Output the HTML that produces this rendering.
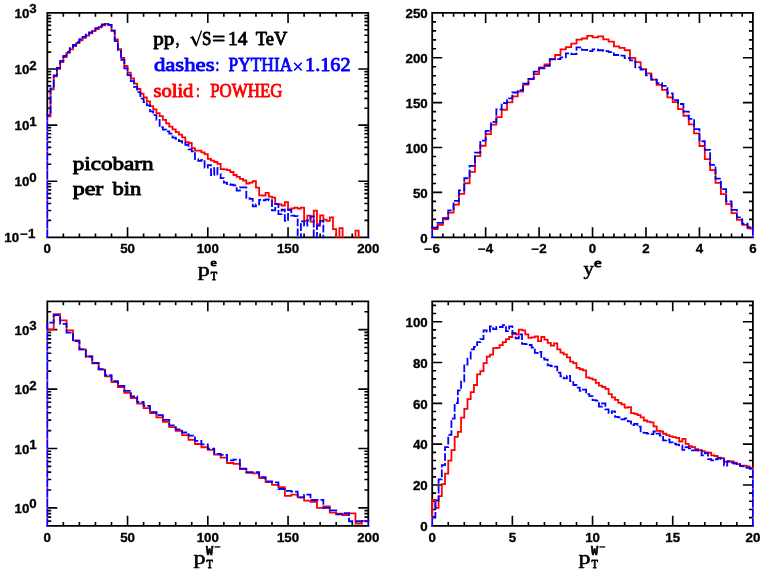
<!DOCTYPE html>
<html><head><meta charset="utf-8"><title>chart</title>
<style>html,body{margin:0;padding:0;background:#fff}svg{display:block;will-change:transform}</style>
</head><body>
<svg width="763" height="573" viewBox="0 0 763 573">
<rect width="763" height="573" fill="#fff"/>
<clipPath id="c1"><rect x="45.3" y="10.9" width="325" height="227.3"/></clipPath>
<path d="M127.55 237.3 v-10 M127.55 12.9 v10 M207.8 237.3 v-10 M207.8 12.9 v10 M288.05 237.3 v-10 M288.05 12.9 v10 M63.35 237.3 v-3.9 M63.35 12.9 v3.9 M79.4 237.3 v-3.9 M79.4 12.9 v3.9 M95.45 237.3 v-3.9 M95.45 12.9 v3.9 M111.5 237.3 v-3.9 M111.5 12.9 v3.9 M143.6 237.3 v-3.9 M143.6 12.9 v3.9 M159.65 237.3 v-3.9 M159.65 12.9 v3.9 M175.7 237.3 v-3.9 M175.7 12.9 v3.9 M191.75 237.3 v-3.9 M191.75 12.9 v3.9 M223.85 237.3 v-3.9 M223.85 12.9 v3.9 M239.9 237.3 v-3.9 M239.9 12.9 v3.9 M255.95 237.3 v-3.9 M255.95 12.9 v3.9 M272 237.3 v-3.9 M272 12.9 v3.9 M304.1 237.3 v-3.9 M304.1 12.9 v3.9 M320.15 237.3 v-3.9 M320.15 12.9 v3.9 M336.2 237.3 v-3.9 M336.2 12.9 v3.9 M352.25 237.3 v-3.9 M352.25 12.9 v3.9" stroke="#000" stroke-width="1.62" fill="none"/>
<path d="M47.3 181.2 h10 M368.3 181.2 h-10 M47.3 125.1 h10 M368.3 125.1 h-10 M47.3 69 h10 M368.3 69 h-10 M47.3 220.41 h3.9 M368.3 220.41 h-3.9 M47.3 210.53 h3.9 M368.3 210.53 h-3.9 M47.3 203.52 h3.9 M368.3 203.52 h-3.9 M47.3 198.09 h3.9 M368.3 198.09 h-3.9 M47.3 193.65 h3.9 M368.3 193.65 h-3.9 M47.3 189.89 h3.9 M368.3 189.89 h-3.9 M47.3 186.64 h3.9 M368.3 186.64 h-3.9 M47.3 183.77 h3.9 M368.3 183.77 h-3.9 M47.3 164.31 h3.9 M368.3 164.31 h-3.9 M47.3 154.43 h3.9 M368.3 154.43 h-3.9 M47.3 147.42 h3.9 M368.3 147.42 h-3.9 M47.3 141.99 h3.9 M368.3 141.99 h-3.9 M47.3 137.55 h3.9 M368.3 137.55 h-3.9 M47.3 133.79 h3.9 M368.3 133.79 h-3.9 M47.3 130.54 h3.9 M368.3 130.54 h-3.9 M47.3 127.67 h3.9 M368.3 127.67 h-3.9 M47.3 108.21 h3.9 M368.3 108.21 h-3.9 M47.3 98.33 h3.9 M368.3 98.33 h-3.9 M47.3 91.32 h3.9 M368.3 91.32 h-3.9 M47.3 85.89 h3.9 M368.3 85.89 h-3.9 M47.3 81.45 h3.9 M368.3 81.45 h-3.9 M47.3 77.69 h3.9 M368.3 77.69 h-3.9 M47.3 74.44 h3.9 M368.3 74.44 h-3.9 M47.3 71.57 h3.9 M368.3 71.57 h-3.9 M47.3 52.11 h3.9 M368.3 52.11 h-3.9 M47.3 42.23 h3.9 M368.3 42.23 h-3.9 M47.3 35.22 h3.9 M368.3 35.22 h-3.9 M47.3 29.79 h3.9 M368.3 29.79 h-3.9 M47.3 25.35 h3.9 M368.3 25.35 h-3.9 M47.3 21.59 h3.9 M368.3 21.59 h-3.9 M47.3 18.34 h3.9 M368.3 18.34 h-3.9 M47.3 15.47 h3.9 M368.3 15.47 h-3.9" stroke="#000" stroke-width="1.62" fill="none"/>
<path d="M46.4 12.9 H369.2 M46.4 237.3 H369.2 M47.3 12.9 V116.25 M368.3 12.9 V237.9" fill="none" stroke="#000" stroke-width="1.8"/>
<path d="M47.3 237.9 L47.3 116.25" fill="none" stroke="#f00" stroke-width="1.8" stroke-linejoin="miter" stroke-dasharray="0 8.07 1.35 0.38" clip-path="url(#c1)"/>
<path d="M47.3 116.25 L47.3 116.25 L50.51 116.25 L50.51 89.37 L53.72 89.37 L53.72 76.38 L56.93 76.38 L56.93 68.89 L60.14 68.89 L60.14 62.06 L63.35 62.06 L63.35 57.02 L66.56 57.02 L66.56 52.97 L69.77 52.97 L69.77 49.29 L72.98 49.29 L72.98 46.09 L76.19 46.09 L76.19 43.18 L79.4 43.18 L79.4 40.35 L82.61 40.35 L82.61 37.96 L85.82 37.96 L85.82 35.65 L89.03 35.65 L89.03 33.38 L92.24 33.38 L92.24 31.05 L95.45 31.05 L95.45 29.15 L98.66 29.15 L98.66 27.26 L101.87 27.26 L101.87 25.47 L105.08 25.47 L105.08 23.93 L108.29 23.93 L108.29 24.94 L111.5 24.94 L111.5 30.58 L114.71 30.58 L114.71 39.47 L117.92 39.47 L117.92 49.24 L121.13 49.24 L121.13 58.01 L124.34 58.01 L124.34 66.02 L127.55 66.02 L127.55 72.67 L130.76 72.67 L130.76 78.4 L133.97 78.4 L133.97 83.57 L137.18 83.57 L137.18 89 L140.39 89 L140.39 93.56 L143.6 93.56 L143.6 97.38 L146.81 97.38 L146.81 101.45 L150.02 101.45 L150.02 106.11 L153.23 106.11 L153.23 109.46 L156.44 109.46 L156.44 113.05 L159.65 113.05 L159.65 116.05 L162.86 116.05 L162.86 119.86 L166.07 119.86 L166.07 123.45 L169.28 123.45 L169.28 126.61 L172.49 126.61 L172.49 129.35 L175.7 129.35 L175.7 132.11 L178.91 132.11 L178.91 134.68 L182.12 134.68 L182.12 137.34 L185.33 137.34 L185.33 142.23 L188.54 142.23 L188.54 142.98 L191.75 142.98 L191.75 148.04 L194.96 148.04 L194.96 150.68 L198.17 150.68 L198.17 150.68 L201.38 150.68 L201.38 152.33 L204.59 152.33 L204.59 154.03 L207.8 154.03 L207.8 158.88 L211.01 158.88 L211.01 160.59 L214.22 160.59 L214.22 161.99 L217.43 161.99 L217.43 163.83 L220.64 163.83 L220.64 169.15 L223.85 169.15 L223.85 169.3 L227.06 169.3 L227.06 170.21 L230.27 170.21 L230.27 171.98 L233.48 171.98 L233.48 175 L236.69 175 L236.69 176.96 L239.9 176.96 L239.9 178.88 L243.11 178.88 L243.11 180.48 L246.32 180.48 L246.32 183.5 L249.53 183.5 L249.53 182.58 L252.74 182.58 L252.74 181.2 L255.95 181.2 L255.95 187.57 L259.16 187.57 L259.16 195.33 L262.37 195.33 L262.37 195.5 L265.58 195.5 L265.58 192.85 L268.79 192.85 L268.79 196.67 L272 196.67 L272 197.61 L275.21 197.61 L275.21 203.83 L278.42 203.83 L278.42 204.46 L281.63 204.46 L281.63 205.69 L284.84 205.69 L284.84 202.05 L288.05 202.05 L288.05 209.73 L291.26 209.73 L291.26 208.36 L294.47 208.36 L294.47 207.7 L297.68 207.7 L297.68 208.66 L300.89 208.66 L300.89 207.7 L304.1 207.7 L304.1 220.78 L307.31 220.78 L307.31 215.57 L310.52 215.57 L310.52 221.66 L313.73 221.66 L313.73 210.53 L316.94 210.53 L316.94 224.23 L320.15 224.23 L320.15 215.47 L323.36 215.47 L323.36 219.69 L326.57 219.69 L326.57 220.9 L329.78 220.9 L329.78 217.43 L332.99 217.43 L332.99 229.1 L336.2 229.1 L336.2 267.3 L339.41 267.3 L339.41 228.08 L342.62 228.08 L342.62 267.3 L345.83 267.3 L345.83 267.3 L349.04 267.3 L349.04 267.3 L352.25 267.3 L352.25 267.3 L355.46 267.3 L355.46 230.72 L358.67 230.72 L358.67 267.3 L361.88 267.3 L361.88 267.3 L365.09 267.3 L365.09 267.3 L368.3 267.3 L368.3 237.9" fill="none" stroke="#f00" stroke-width="1.8" stroke-linejoin="miter" clip-path="url(#c1)"/>
<path d="M47.3 237.9 L47.3 115.16" fill="none" stroke="#00f" stroke-width="1.8" stroke-linejoin="miter" stroke-dasharray="8.07 1.35 0.38 0" clip-path="url(#c1)"/>
<path d="M47.3 116.06 L47.3 115.16 L50.51 115.16 L50.51 88.28 L53.72 88.28 L53.72 75.29 L56.93 75.29 L56.93 67.8 L60.14 67.8 L60.14 60.97 L63.35 60.97 L63.35 55.93 L66.56 55.93 L66.56 51.88 L69.77 51.88 L69.77 48.2 L72.98 48.2 L72.98 45 L76.19 45 L76.19 42.09 L79.4 42.09 L79.4 39.27 L82.61 39.27 L82.61 36.87 L85.82 36.87 L85.82 34.57 L89.03 34.57 L89.03 32.29 L92.24 32.29 L92.24 29.96 L95.45 29.96 L95.45 28.07 L98.66 28.07 L98.66 26.18 L101.87 26.18 L101.87 24.38 L105.08 24.38 L105.08 23.93 L108.29 23.93 L108.29 24.94 L111.5 24.94 L111.5 30.58 L114.71 30.58 L114.71 41.04 L117.92 41.04 L117.92 51.04 L121.13 51.04 L121.13 59.95 L124.34 59.95 L124.34 68.28 L127.55 68.28 L127.55 75.05 L130.76 75.05 L130.76 81.04 L133.97 81.04 L133.97 86.88 L137.18 86.88 L137.18 92.13 L140.39 92.13 L140.39 98.66 L143.6 98.66 L143.6 102.2 L146.81 102.2 L146.81 105.34 L150.02 105.34 L150.02 111.33 L153.23 111.33 L153.23 115.22 L156.44 115.22 L156.44 119.86 L159.65 119.86 L159.65 127.13 L162.86 127.13 L162.86 129.64 L166.07 129.64 L166.07 131.47 L169.28 131.47 L169.28 133.62 L172.49 133.62 L172.49 137.55 L175.7 137.55 L175.7 138.8 L178.91 138.8 L178.91 141.03 L182.12 141.03 L182.12 142.48 L185.33 142.48 L185.33 144.83 L188.54 144.83 L188.54 149.32 L191.75 149.32 L191.75 151.38 L194.96 151.38 L194.96 159.17 L198.17 159.17 L198.17 160.91 L201.38 160.91 L201.38 159.87 L204.59 159.87 L204.59 167.57 L207.8 167.57 L207.8 165.05 L211.01 165.05 L211.01 175 L214.22 175 L214.22 167.85 L217.43 167.85 L217.43 174.25 L220.64 174.25 L220.64 178.22 L223.85 178.22 L223.85 182.71 L227.06 182.71 L227.06 184.04 L230.27 184.04 L230.27 184.73 L233.48 184.73 L233.48 185.45 L236.69 185.45 L236.69 190.6 L239.9 190.6 L239.9 187.38 L243.11 187.38 L243.11 187.38 L246.32 187.38 L246.32 198.09 L249.53 198.09 L249.53 198.93 L252.74 198.93 L252.74 206.36 L255.95 206.36 L255.95 204.46 L259.16 204.46 L259.16 199.8 L262.37 199.8 L262.37 200.23 L265.58 200.23 L265.58 199.44 L268.79 199.44 L268.79 200.23 L272 200.23 L272 210.29 L275.21 210.29 L275.21 204.2 L278.42 204.2 L278.42 214.21 L281.63 214.21 L281.63 209.73 L284.84 209.73 L284.84 220.78 L288.05 220.78 L288.05 209.73 L291.26 209.73 L291.26 215.57 L294.47 215.57 L294.47 216.17 L297.68 216.17 L297.68 267.3 L300.89 267.3 L300.89 221.41 L304.1 221.41 L304.1 225.7 L307.31 225.7 L307.31 220.41 L310.52 220.41 L310.52 216.48 L313.73 216.48 L313.73 267.3 L316.94 267.3 L316.94 225.7 L320.15 225.7 L320.15 220.78 L323.36 220.78 L323.36 267.3 L326.57 267.3 L326.57 267.3 L329.78 267.3 L329.78 267.3 L332.99 267.3 L332.99 267.3 L336.2 267.3 L336.2 267.3 L339.41 267.3 L339.41 267.3 L342.62 267.3 L342.62 267.3 L345.83 267.3 L345.83 267.3 L349.04 267.3 L349.04 267.3 L352.25 267.3 L352.25 267.3 L355.46 267.3 L355.46 267.3 L358.67 267.3 L358.67 267.3 L361.88 267.3 L361.88 267.3 L365.09 267.3 L365.09 267.3 L368.3 267.3 L368.3 267.3" fill="none" stroke="#00f" stroke-width="1.8" stroke-linejoin="miter" stroke-dasharray="7.7 2.1" stroke-dashoffset="4.24" clip-path="url(#c1)"/>
<rect x="367.4" y="236.4" width="1.8" height="1.8" fill="#00f"/>
<text transform="translate(47.3 253.3) scale(1.11 1)" text-anchor="middle" font-family='"Liberation Sans", sans-serif' font-weight="bold" font-size="12" stroke="#000" stroke-width="0.3">0</text>
<text transform="translate(127.55 253.3) scale(1.11 1)" text-anchor="middle" font-family='"Liberation Sans", sans-serif' font-weight="bold" font-size="12" stroke="#000" stroke-width="0.3">50</text>
<text transform="translate(207.8 253.3) scale(1.11 1)" text-anchor="middle" font-family='"Liberation Sans", sans-serif' font-weight="bold" font-size="12" stroke="#000" stroke-width="0.3">100</text>
<text transform="translate(288.05 253.3) scale(1.11 1)" text-anchor="middle" font-family='"Liberation Sans", sans-serif' font-weight="bold" font-size="12" stroke="#000" stroke-width="0.3">150</text>
<text transform="translate(368.3 253.3) scale(1.11 1)" text-anchor="middle" font-family='"Liberation Sans", sans-serif' font-weight="bold" font-size="12" stroke="#000" stroke-width="0.3">200</text>
<text transform="translate(29.3 18.1) scale(1.11 1)" text-anchor="end" font-family='"Liberation Sans", sans-serif' font-weight="bold" font-size="12" stroke="#000" stroke-width="0.3">10</text>
<text transform="translate(29.3 13.4) scale(1.11 1)" text-anchor="start" font-family='"Liberation Sans", sans-serif' font-weight="bold" font-size="12" stroke="#000" stroke-width="0.3">3</text>
<text transform="translate(29.3 74.2) scale(1.11 1)" text-anchor="end" font-family='"Liberation Sans", sans-serif' font-weight="bold" font-size="12" stroke="#000" stroke-width="0.3">10</text>
<text transform="translate(29.3 69.5) scale(1.11 1)" text-anchor="start" font-family='"Liberation Sans", sans-serif' font-weight="bold" font-size="12" stroke="#000" stroke-width="0.3">2</text>
<text transform="translate(29.3 130.3) scale(1.11 1)" text-anchor="end" font-family='"Liberation Sans", sans-serif' font-weight="bold" font-size="12" stroke="#000" stroke-width="0.3">10</text>
<text transform="translate(29.3 125.6) scale(1.11 1)" text-anchor="start" font-family='"Liberation Sans", sans-serif' font-weight="bold" font-size="12" stroke="#000" stroke-width="0.3">1</text>
<text transform="translate(29.3 186.4) scale(1.11 1)" text-anchor="end" font-family='"Liberation Sans", sans-serif' font-weight="bold" font-size="12" stroke="#000" stroke-width="0.3">10</text>
<text transform="translate(29.3 181.7) scale(1.11 1)" text-anchor="start" font-family='"Liberation Sans", sans-serif' font-weight="bold" font-size="12" stroke="#000" stroke-width="0.3">0</text>
<text transform="translate(19.1 242.3) scale(1.11 1)" text-anchor="end" font-family='"Liberation Sans", sans-serif' font-weight="bold" font-size="12" stroke="#000" stroke-width="0.3">10</text>
<text transform="translate(20.3 237.5) scale(1.11 1)" text-anchor="start" font-family='"Liberation Sans", sans-serif' font-weight="bold" font-size="12" stroke="#000" stroke-width="0.3">−1</text>
<clipPath id="c2"><rect x="430.2" y="10.9" width="324.7" height="227.3"/></clipPath>
<path d="M485.65 237.3 v-10 M485.65 12.9 v10 M539.1 237.3 v-10 M539.1 12.9 v10 M592.55 237.3 v-10 M592.55 12.9 v10 M646 237.3 v-10 M646 12.9 v10 M699.45 237.3 v-10 M699.45 12.9 v10 M442.89 237.3 v-3.9 M442.89 12.9 v3.9 M453.58 237.3 v-3.9 M453.58 12.9 v3.9 M464.27 237.3 v-3.9 M464.27 12.9 v3.9 M474.96 237.3 v-3.9 M474.96 12.9 v3.9 M496.34 237.3 v-3.9 M496.34 12.9 v3.9 M507.03 237.3 v-3.9 M507.03 12.9 v3.9 M517.72 237.3 v-3.9 M517.72 12.9 v3.9 M528.41 237.3 v-3.9 M528.41 12.9 v3.9 M549.79 237.3 v-3.9 M549.79 12.9 v3.9 M560.48 237.3 v-3.9 M560.48 12.9 v3.9 M571.17 237.3 v-3.9 M571.17 12.9 v3.9 M581.86 237.3 v-3.9 M581.86 12.9 v3.9 M603.24 237.3 v-3.9 M603.24 12.9 v3.9 M613.93 237.3 v-3.9 M613.93 12.9 v3.9 M624.62 237.3 v-3.9 M624.62 12.9 v3.9 M635.31 237.3 v-3.9 M635.31 12.9 v3.9 M656.69 237.3 v-3.9 M656.69 12.9 v3.9 M667.38 237.3 v-3.9 M667.38 12.9 v3.9 M678.07 237.3 v-3.9 M678.07 12.9 v3.9 M688.76 237.3 v-3.9 M688.76 12.9 v3.9 M710.14 237.3 v-3.9 M710.14 12.9 v3.9 M720.83 237.3 v-3.9 M720.83 12.9 v3.9 M731.52 237.3 v-3.9 M731.52 12.9 v3.9 M742.21 237.3 v-3.9 M742.21 12.9 v3.9" stroke="#000" stroke-width="1.62" fill="none"/>
<path d="M432.2 192.42 h10 M752.9 192.42 h-10 M432.2 147.54 h10 M752.9 147.54 h-10 M432.2 102.66 h10 M752.9 102.66 h-10 M432.2 57.78 h10 M752.9 57.78 h-10 M432.2 228.32 h3.9 M752.9 228.32 h-3.9 M432.2 219.35 h3.9 M752.9 219.35 h-3.9 M432.2 210.37 h3.9 M752.9 210.37 h-3.9 M432.2 201.4 h3.9 M752.9 201.4 h-3.9 M432.2 183.44 h3.9 M752.9 183.44 h-3.9 M432.2 174.47 h3.9 M752.9 174.47 h-3.9 M432.2 165.49 h3.9 M752.9 165.49 h-3.9 M432.2 156.52 h3.9 M752.9 156.52 h-3.9 M432.2 138.56 h3.9 M752.9 138.56 h-3.9 M432.2 129.59 h3.9 M752.9 129.59 h-3.9 M432.2 120.61 h3.9 M752.9 120.61 h-3.9 M432.2 111.64 h3.9 M752.9 111.64 h-3.9 M432.2 93.68 h3.9 M752.9 93.68 h-3.9 M432.2 84.71 h3.9 M752.9 84.71 h-3.9 M432.2 75.73 h3.9 M752.9 75.73 h-3.9 M432.2 66.76 h3.9 M752.9 66.76 h-3.9 M432.2 48.8 h3.9 M752.9 48.8 h-3.9 M432.2 39.83 h3.9 M752.9 39.83 h-3.9 M432.2 30.85 h3.9 M752.9 30.85 h-3.9 M432.2 21.88 h3.9 M752.9 21.88 h-3.9" stroke="#000" stroke-width="1.62" fill="none"/>
<path d="M431.3 12.9 H753.8 M431.3 237.3 H753.8 M432.2 12.9 V229.22 M752.9 12.9 V228.41" fill="none" stroke="#000" stroke-width="1.8"/>
<path d="M432.2 237.9 L432.2 229.22" fill="none" stroke="#f00" stroke-width="1.8" stroke-linejoin="miter" stroke-dasharray="0 8.07 1.35 0.38" clip-path="url(#c2)"/>
<path d="M432.2 229.22 L432.2 229.22 L437.55 229.22 L437.55 224.91 L442.89 224.91 L442.89 219.44 L448.23 219.44 L448.23 212.71 L453.58 212.71 L453.58 204.54 L458.93 204.54 L458.93 193.95 L464.27 193.95 L464.27 183.26 L469.62 183.26 L469.62 171.95 L474.96 171.95 L474.96 156.07 L480.31 156.07 L480.31 145.74 L485.65 145.74 L485.65 134.08 L491 134.08 L491 124.65 L496.34 124.65 L496.34 117.11 L501.69 117.11 L501.69 109.75 L507.03 109.75 L507.03 102.39 L512.38 102.39 L512.38 96.47 L517.72 96.47 L517.72 91.71 L523.07 91.71 L523.07 84.71 L528.41 84.71 L528.41 79.05 L533.75 79.05 L533.75 74.12 L539.1 74.12 L539.1 67.29 L544.44 67.29 L544.44 64.33 L549.79 64.33 L549.79 58.86 L555.13 58.86 L555.13 55 L560.48 55 L560.48 49.43 L565.83 49.43 L565.83 47.1 L571.17 47.1 L571.17 43.69 L576.51 43.69 L576.51 39.56 L581.86 39.56 L581.86 38.48 L587.21 38.48 L587.21 35.79 L592.55 35.79 L592.55 37.4 L597.89 37.4 L597.89 36.42 L603.24 36.42 L603.24 39.29 L608.59 39.29 L608.59 41.62 L613.93 41.62 L613.93 46.29 L619.27 46.29 L619.27 47.91 L624.62 47.91 L624.62 50.24 L629.97 50.24 L629.97 57.78 L635.31 57.78 L635.31 62.09 L640.65 62.09 L640.65 69.09 L646 69.09 L646 73.4 L651.35 73.4 L651.35 79.68 L656.69 79.68 L656.69 84.8 L662.03 84.8 L662.03 89.82 L667.38 89.82 L667.38 97.36 L672.72 97.36 L672.72 102.12 L678.07 102.12 L678.07 109.03 L683.41 109.03 L683.41 115.76 L688.76 115.76 L688.76 124.38 L694.11 124.38 L694.11 133.45 L699.45 133.45 L699.45 146.01 L704.8 146.01 L704.8 159.03 L710.14 159.03 L710.14 170.07 L715.49 170.07 L715.49 182.91 L720.83 182.91 L720.83 194.22 L726.17 194.22 L726.17 204.09 L731.52 204.09 L731.52 213.06 L736.87 213.06 L736.87 219.8 L742.21 219.8 L742.21 224.91 L747.56 224.91 L747.56 228.41 L752.9 228.41 L752.9 228.41" fill="none" stroke="#f00" stroke-width="1.8" stroke-linejoin="miter" clip-path="url(#c2)"/>
<path d="M752.9 228.41 L752.9 237.9" fill="none" stroke="#f00" stroke-width="1.8" stroke-linejoin="miter" stroke-dasharray="0 8.07 1.35 0.38" stroke-dashoffset="1.33" clip-path="url(#c2)"/>
<path d="M432.2 237.9 L432.2 227.61" fill="none" stroke="#00f" stroke-width="1.8" stroke-linejoin="miter" stroke-dasharray="8.07 1.35 0.38 0" clip-path="url(#c2)"/>
<path d="M432.2 228.51 L432.2 227.61 L437.55 227.61 L437.55 222.94 L442.89 222.94 L442.89 218.18 L448.23 218.18 L448.23 210.37 L453.58 210.37 L453.58 200.95 L458.93 200.95 L458.93 190.45 L464.27 190.45 L464.27 178.24 L469.62 178.24 L469.62 165.94 L474.96 165.94 L474.96 152.66 L480.31 152.66 L480.31 140.72 L485.65 140.72 L485.65 130.93 L491 130.93 L491 121.78 L496.34 121.78 L496.34 109.3 L501.69 109.3 L501.69 103.02 L507.03 103.02 L507.03 98.35 L512.38 98.35 L512.38 92.52 L517.72 92.52 L517.72 90.09 L523.07 90.09 L523.07 83.54 L528.41 83.54 L528.41 78.87 L533.75 78.87 L533.75 71.6 L539.1 71.6 L539.1 68.37 L544.44 68.37 L544.44 65.95 L549.79 65.95 L549.79 59.4 L555.13 59.4 L555.13 59.13 L560.48 59.13 L560.48 57.33 L565.83 57.33 L565.83 53.38 L571.17 53.38 L571.17 54.19 L576.51 54.19 L576.51 47.37 L581.86 47.37 L581.86 49.97 L587.21 49.97 L587.21 51.05 L592.55 51.05 L592.55 49.43 L597.89 49.43 L597.89 50.24 L603.24 50.24 L603.24 51.05 L608.59 51.05 L608.59 52.13 L613.93 52.13 L613.93 55 L619.27 55 L619.27 55.72 L624.62 55.72 L624.62 58.05 L629.97 58.05 L629.97 60.47 L635.31 60.47 L635.31 67.29 L640.65 67.29 L640.65 69.54 L646 69.54 L646 75.46 L651.35 75.46 L651.35 79.68 L656.69 79.68 L656.69 83.27 L662.03 83.27 L662.03 85.96 L667.38 85.96 L667.38 93.32 L672.72 93.32 L672.72 100.06 L678.07 100.06 L678.07 104.01 L683.41 104.01 L683.41 111.55 L688.76 111.55 L688.76 118.91 L694.11 118.91 L694.11 129.14 L699.45 129.14 L699.45 141.26 L704.8 141.26 L704.8 149.87 L710.14 149.87 L710.14 164.86 L715.49 164.86 L715.49 178.69 L720.83 178.69 L720.83 189.19 L726.17 189.19 L726.17 201.4 L731.52 201.4 L731.52 209.92 L736.87 209.92 L736.87 217.46 L742.21 217.46 L742.21 223.75 L747.56 223.75 L747.56 227.16 L752.9 227.16 L752.9 228.06" fill="none" stroke="#00f" stroke-width="1.8" stroke-linejoin="miter" stroke-dasharray="7.7 2.1" stroke-dashoffset="9.39" clip-path="url(#c2)"/>
<path d="M752.9 227.16 L752.9 237.9" fill="none" stroke="#00f" stroke-width="1.8" stroke-linejoin="miter" stroke-dasharray="8.07 1.35 0.38 0" stroke-dashoffset="0.07" clip-path="url(#c2)"/>
<text transform="translate(432.2 253.3) scale(1.11 1)" text-anchor="middle" font-family='"Liberation Sans", sans-serif' font-weight="bold" font-size="12" stroke="#000" stroke-width="0.3">−6</text>
<text transform="translate(485.65 253.3) scale(1.11 1)" text-anchor="middle" font-family='"Liberation Sans", sans-serif' font-weight="bold" font-size="12" stroke="#000" stroke-width="0.3">−4</text>
<text transform="translate(539.1 253.3) scale(1.11 1)" text-anchor="middle" font-family='"Liberation Sans", sans-serif' font-weight="bold" font-size="12" stroke="#000" stroke-width="0.3">−2</text>
<text transform="translate(592.55 253.3) scale(1.11 1)" text-anchor="middle" font-family='"Liberation Sans", sans-serif' font-weight="bold" font-size="12" stroke="#000" stroke-width="0.3">0</text>
<text transform="translate(646 253.3) scale(1.11 1)" text-anchor="middle" font-family='"Liberation Sans", sans-serif' font-weight="bold" font-size="12" stroke="#000" stroke-width="0.3">2</text>
<text transform="translate(699.45 253.3) scale(1.11 1)" text-anchor="middle" font-family='"Liberation Sans", sans-serif' font-weight="bold" font-size="12" stroke="#000" stroke-width="0.3">4</text>
<text transform="translate(752.9 253.3) scale(1.11 1)" text-anchor="middle" font-family='"Liberation Sans", sans-serif' font-weight="bold" font-size="12" stroke="#000" stroke-width="0.3">6</text>
<text transform="translate(427.7 242.5) scale(1.11 1)" text-anchor="end" font-family='"Liberation Sans", sans-serif' font-weight="bold" font-size="12" stroke="#000" stroke-width="0.3">0</text>
<text transform="translate(427.7 197.62) scale(1.11 1)" text-anchor="end" font-family='"Liberation Sans", sans-serif' font-weight="bold" font-size="12" stroke="#000" stroke-width="0.3">50</text>
<text transform="translate(427.7 152.74) scale(1.11 1)" text-anchor="end" font-family='"Liberation Sans", sans-serif' font-weight="bold" font-size="12" stroke="#000" stroke-width="0.3">100</text>
<text transform="translate(427.7 107.86) scale(1.11 1)" text-anchor="end" font-family='"Liberation Sans", sans-serif' font-weight="bold" font-size="12" stroke="#000" stroke-width="0.3">150</text>
<text transform="translate(427.7 62.98) scale(1.11 1)" text-anchor="end" font-family='"Liberation Sans", sans-serif' font-weight="bold" font-size="12" stroke="#000" stroke-width="0.3">200</text>
<text transform="translate(427.7 18.1) scale(1.11 1)" text-anchor="end" font-family='"Liberation Sans", sans-serif' font-weight="bold" font-size="12" stroke="#000" stroke-width="0.3">250</text>
<clipPath id="c3"><rect x="45.3" y="299.3" width="325" height="227.4"/></clipPath>
<path d="M127.55 525.8 v-10 M127.55 301.3 v10 M207.8 525.8 v-10 M207.8 301.3 v10 M288.05 525.8 v-10 M288.05 301.3 v10 M63.35 525.8 v-3.9 M63.35 301.3 v3.9 M79.4 525.8 v-3.9 M79.4 301.3 v3.9 M95.45 525.8 v-3.9 M95.45 301.3 v3.9 M111.5 525.8 v-3.9 M111.5 301.3 v3.9 M143.6 525.8 v-3.9 M143.6 301.3 v3.9 M159.65 525.8 v-3.9 M159.65 301.3 v3.9 M175.7 525.8 v-3.9 M175.7 301.3 v3.9 M191.75 525.8 v-3.9 M191.75 301.3 v3.9 M223.85 525.8 v-3.9 M223.85 301.3 v3.9 M239.9 525.8 v-3.9 M239.9 301.3 v3.9 M255.95 525.8 v-3.9 M255.95 301.3 v3.9 M272 525.8 v-3.9 M272 301.3 v3.9 M304.1 525.8 v-3.9 M304.1 301.3 v3.9 M320.15 525.8 v-3.9 M320.15 301.3 v3.9 M336.2 525.8 v-3.9 M336.2 301.3 v3.9 M352.25 525.8 v-3.9 M352.25 301.3 v3.9" stroke="#000" stroke-width="1.62" fill="none"/>
<path d="M47.3 507.91 h10 M368.3 507.91 h-10 M47.3 448.49 h10 M368.3 448.49 h-10 M47.3 389.07 h10 M368.3 389.07 h-10 M47.3 329.65 h10 M368.3 329.65 h-10 M47.3 521.1 h3.9 M368.3 521.1 h-3.9 M47.3 517.12 h3.9 M368.3 517.12 h-3.9 M47.3 513.67 h3.9 M368.3 513.67 h-3.9 M47.3 510.63 h3.9 M368.3 510.63 h-3.9 M47.3 490.03 h3.9 M368.3 490.03 h-3.9 M47.3 479.56 h3.9 M368.3 479.56 h-3.9 M47.3 472.14 h3.9 M368.3 472.14 h-3.9 M47.3 466.38 h3.9 M368.3 466.38 h-3.9 M47.3 461.67 h3.9 M368.3 461.67 h-3.9 M47.3 457.7 h3.9 M368.3 457.7 h-3.9 M47.3 454.25 h3.9 M368.3 454.25 h-3.9 M47.3 451.21 h3.9 M368.3 451.21 h-3.9 M47.3 430.6 h3.9 M368.3 430.6 h-3.9 M47.3 420.14 h3.9 M368.3 420.14 h-3.9 M47.3 412.72 h3.9 M368.3 412.72 h-3.9 M47.3 406.96 h3.9 M368.3 406.96 h-3.9 M47.3 402.25 h3.9 M368.3 402.25 h-3.9 M47.3 398.28 h3.9 M368.3 398.28 h-3.9 M47.3 394.83 h3.9 M368.3 394.83 h-3.9 M47.3 391.79 h3.9 M368.3 391.79 h-3.9 M47.3 371.18 h3.9 M368.3 371.18 h-3.9 M47.3 360.72 h3.9 M368.3 360.72 h-3.9 M47.3 353.3 h3.9 M368.3 353.3 h-3.9 M47.3 347.54 h3.9 M368.3 347.54 h-3.9 M47.3 342.83 h3.9 M368.3 342.83 h-3.9 M47.3 338.86 h3.9 M368.3 338.86 h-3.9 M47.3 335.41 h3.9 M368.3 335.41 h-3.9 M47.3 332.37 h3.9 M368.3 332.37 h-3.9 M47.3 311.76 h3.9 M368.3 311.76 h-3.9" stroke="#000" stroke-width="1.62" fill="none"/>
<path d="M46.4 301.3 H369.2 M46.4 525.8 H369.2 M47.3 301.3 V329.34 M368.3 301.3 V521.27" fill="none" stroke="#000" stroke-width="1.8"/>
<path d="M47.3 526.4 L47.3 329.34" fill="none" stroke="#f00" stroke-width="1.8" stroke-linejoin="miter" stroke-dasharray="0 8.07 1.35 0.38" clip-path="url(#c3)"/>
<path d="M47.3 329.34 L47.3 329.34 L53.72 329.34 L53.72 314.06 L60.14 314.06 L60.14 320.47 L66.56 320.47 L66.56 330.46 L72.98 330.46 L72.98 340.33 L79.4 340.33 L79.4 349.3 L85.82 349.3 L85.82 356.52 L92.24 356.52 L92.24 363.34 L98.66 363.34 L98.66 369.68 L105.08 369.68 L105.08 376.31 L111.5 376.31 L111.5 382.1 L117.92 382.1 L117.92 387.21 L124.34 387.21 L124.34 392.81 L130.76 392.81 L130.76 397.98 L137.18 397.98 L137.18 403.49 L143.6 403.49 L143.6 408.17 L150.02 408.17 L150.02 413.17 L156.44 413.17 L156.44 417.29 L162.86 417.29 L162.86 421.92 L169.28 421.92 L169.28 427.22 L175.7 427.22 L175.7 430.86 L182.12 430.86 L182.12 435.1 L188.54 435.1 L188.54 439.81 L194.96 439.81 L194.96 444 L201.38 444 L201.38 447.23 L207.8 447.23 L207.8 449.95 L214.22 449.95 L214.22 454.58 L220.64 454.58 L220.64 457.7 L227.06 457.7 L227.06 463 L233.48 463 L233.48 463.92 L239.9 463.92 L239.9 469.1 L246.32 469.1 L246.32 472.79 L252.74 472.79 L252.74 473.46 L259.16 473.46 L259.16 478.06 L265.58 478.06 L265.58 482.09 L272 482.09 L272 484.79 L278.42 484.79 L278.42 487.22 L284.84 487.22 L284.84 495.78 L291.26 495.78 L291.26 494.68 L297.68 494.68 L297.68 497.28 L304.1 497.28 L304.1 500.55 L310.52 500.55 L310.52 501.74 L316.94 501.74 L316.94 507.91 L323.36 507.91 L323.36 506.41 L329.78 506.41 L329.78 512.72 L336.2 512.72 L336.2 513.67 L342.62 513.67 L342.62 514.99 L349.04 514.99 L349.04 513.35 L355.46 513.35 L355.46 523.48 L361.88 523.48 L361.88 520.88 L368.3 520.88 L368.3 521.27" fill="none" stroke="#f00" stroke-width="1.8" stroke-linejoin="miter" clip-path="url(#c3)"/>
<path d="M368.3 521.27 L368.3 526.4" fill="none" stroke="#f00" stroke-width="1.8" stroke-linejoin="miter" stroke-dasharray="0 8.07 1.35 0.38" stroke-dashoffset="3.22" clip-path="url(#c3)"/>
<path d="M47.3 526.4 L47.3 322.68" fill="none" stroke="#00f" stroke-width="1.8" stroke-linejoin="miter" stroke-dasharray="8.07 1.35 0.38 0" clip-path="url(#c3)"/>
<path d="M47.3 323.58 L47.3 322.68 L53.72 322.68 L53.72 315.21 L60.14 315.21 L60.14 323.87 L66.56 323.87 L66.56 332.54 L72.98 332.54 L72.98 341.13 L79.4 341.13 L79.4 349.3 L85.82 349.3 L85.82 356.52 L92.24 356.52 L92.24 362.97 L98.66 362.97 L98.66 369.08 L105.08 369.08 L105.08 375.23 L111.5 375.23 L111.5 381.14 L117.92 381.14 L117.92 385.92 L124.34 385.92 L124.34 390.94 L130.76 390.94 L130.76 396.39 L137.18 396.39 L137.18 401.91 L143.6 401.91 L143.6 405.8 L150.02 405.8 L150.02 412.08 L156.44 412.08 L156.44 415.15 L162.86 415.15 L162.86 419.88 L169.28 419.88 L169.28 425.37 L175.7 425.37 L175.7 429.35 L182.12 429.35 L182.12 432.48 L188.54 432.48 L188.54 435.57 L194.96 435.57 L194.96 440.94 L201.38 440.94 L201.38 444.44 L207.8 444.44 L207.8 448.75 L214.22 448.75 L214.22 453.93 L220.64 453.93 L220.64 454.9 L227.06 454.9 L227.06 460.42 L233.48 460.42 L233.48 459.61 L239.9 459.61 L239.9 468.53 L246.32 468.53 L246.32 472.14 L252.74 472.14 L252.74 472.14 L259.16 472.14 L259.16 477.1 L265.58 477.1 L265.58 481.34 L272 481.34 L272 482.28 L278.42 482.28 L278.42 489.01 L284.84 489.01 L284.84 490.94 L291.26 490.94 L291.26 491.62 L297.68 491.62 L297.68 497.28 L304.1 497.28 L304.1 494.68 L310.52 494.68 L310.52 499.98 L316.94 499.98 L316.94 499.79 L323.36 499.79 L323.36 507.91 L329.78 507.91 L329.78 510.35 L336.2 510.35 L336.2 514.32 L342.62 514.32 L342.62 513.03 L349.04 513.03 L349.04 521.27 L355.46 521.27 L355.46 521.27 L361.88 521.27 L361.88 521.27 L368.3 521.27 L368.3 522.17" fill="none" stroke="#00f" stroke-width="1.8" stroke-linejoin="miter" stroke-dasharray="7.7 2.1" stroke-dashoffset="6.82" clip-path="url(#c3)"/>
<path d="M368.3 521.27 L368.3 526.4" fill="none" stroke="#00f" stroke-width="1.8" stroke-linejoin="miter" stroke-dasharray="8.07 1.35 0.38 0" stroke-dashoffset="3.22" clip-path="url(#c3)"/>
<text transform="translate(47.3 541.8) scale(1.11 1)" text-anchor="middle" font-family='"Liberation Sans", sans-serif' font-weight="bold" font-size="12" stroke="#000" stroke-width="0.3">0</text>
<text transform="translate(127.55 541.8) scale(1.11 1)" text-anchor="middle" font-family='"Liberation Sans", sans-serif' font-weight="bold" font-size="12" stroke="#000" stroke-width="0.3">50</text>
<text transform="translate(207.8 541.8) scale(1.11 1)" text-anchor="middle" font-family='"Liberation Sans", sans-serif' font-weight="bold" font-size="12" stroke="#000" stroke-width="0.3">100</text>
<text transform="translate(288.05 541.8) scale(1.11 1)" text-anchor="middle" font-family='"Liberation Sans", sans-serif' font-weight="bold" font-size="12" stroke="#000" stroke-width="0.3">150</text>
<text transform="translate(368.3 541.8) scale(1.11 1)" text-anchor="middle" font-family='"Liberation Sans", sans-serif' font-weight="bold" font-size="12" stroke="#000" stroke-width="0.3">200</text>
<text transform="translate(29.3 334.85) scale(1.11 1)" text-anchor="end" font-family='"Liberation Sans", sans-serif' font-weight="bold" font-size="12" stroke="#000" stroke-width="0.3">10</text>
<text transform="translate(29.3 330.15) scale(1.11 1)" text-anchor="start" font-family='"Liberation Sans", sans-serif' font-weight="bold" font-size="12" stroke="#000" stroke-width="0.3">3</text>
<text transform="translate(29.3 394.27) scale(1.11 1)" text-anchor="end" font-family='"Liberation Sans", sans-serif' font-weight="bold" font-size="12" stroke="#000" stroke-width="0.3">10</text>
<text transform="translate(29.3 389.57) scale(1.11 1)" text-anchor="start" font-family='"Liberation Sans", sans-serif' font-weight="bold" font-size="12" stroke="#000" stroke-width="0.3">2</text>
<text transform="translate(29.3 453.69) scale(1.11 1)" text-anchor="end" font-family='"Liberation Sans", sans-serif' font-weight="bold" font-size="12" stroke="#000" stroke-width="0.3">10</text>
<text transform="translate(29.3 448.99) scale(1.11 1)" text-anchor="start" font-family='"Liberation Sans", sans-serif' font-weight="bold" font-size="12" stroke="#000" stroke-width="0.3">1</text>
<text transform="translate(29.3 513.11) scale(1.11 1)" text-anchor="end" font-family='"Liberation Sans", sans-serif' font-weight="bold" font-size="12" stroke="#000" stroke-width="0.3">10</text>
<text transform="translate(29.3 508.41) scale(1.11 1)" text-anchor="start" font-family='"Liberation Sans", sans-serif' font-weight="bold" font-size="12" stroke="#000" stroke-width="0.3">0</text>
<clipPath id="c4"><rect x="430.2" y="299.3" width="324.7" height="227.4"/></clipPath>
<path d="M512.38 525.8 v-10 M512.38 301.3 v10 M592.55 525.8 v-10 M592.55 301.3 v10 M672.72 525.8 v-10 M672.72 301.3 v10 M448.24 525.8 v-3.9 M448.24 301.3 v3.9 M464.27 525.8 v-3.9 M464.27 301.3 v3.9 M480.31 525.8 v-3.9 M480.31 301.3 v3.9 M496.34 525.8 v-3.9 M496.34 301.3 v3.9 M528.41 525.8 v-3.9 M528.41 301.3 v3.9 M544.44 525.8 v-3.9 M544.44 301.3 v3.9 M560.48 525.8 v-3.9 M560.48 301.3 v3.9 M576.51 525.8 v-3.9 M576.51 301.3 v3.9 M608.59 525.8 v-3.9 M608.59 301.3 v3.9 M624.62 525.8 v-3.9 M624.62 301.3 v3.9 M640.65 525.8 v-3.9 M640.65 301.3 v3.9 M656.69 525.8 v-3.9 M656.69 301.3 v3.9 M688.76 525.8 v-3.9 M688.76 301.3 v3.9 M704.79 525.8 v-3.9 M704.79 301.3 v3.9 M720.83 525.8 v-3.9 M720.83 301.3 v3.9 M736.87 525.8 v-3.9 M736.87 301.3 v3.9" stroke="#000" stroke-width="1.62" fill="none"/>
<path d="M432.2 484.98 h10 M752.9 484.98 h-10 M432.2 444.16 h10 M752.9 444.16 h-10 M432.2 403.35 h10 M752.9 403.35 h-10 M432.2 362.53 h10 M752.9 362.53 h-10 M432.2 321.71 h10 M752.9 321.71 h-10 M432.2 517.64 h3.9 M752.9 517.64 h-3.9 M432.2 509.47 h3.9 M752.9 509.47 h-3.9 M432.2 501.31 h3.9 M752.9 501.31 h-3.9 M432.2 493.15 h3.9 M752.9 493.15 h-3.9 M432.2 476.82 h3.9 M752.9 476.82 h-3.9 M432.2 468.65 h3.9 M752.9 468.65 h-3.9 M432.2 460.49 h3.9 M752.9 460.49 h-3.9 M432.2 452.33 h3.9 M752.9 452.33 h-3.9 M432.2 436 h3.9 M752.9 436 h-3.9 M432.2 427.84 h3.9 M752.9 427.84 h-3.9 M432.2 419.67 h3.9 M752.9 419.67 h-3.9 M432.2 411.51 h3.9 M752.9 411.51 h-3.9 M432.2 395.18 h3.9 M752.9 395.18 h-3.9 M432.2 387.02 h3.9 M752.9 387.02 h-3.9 M432.2 378.85 h3.9 M752.9 378.85 h-3.9 M432.2 370.69 h3.9 M752.9 370.69 h-3.9 M432.2 354.36 h3.9 M752.9 354.36 h-3.9 M432.2 346.2 h3.9 M752.9 346.2 h-3.9 M432.2 338.04 h3.9 M752.9 338.04 h-3.9 M432.2 329.87 h3.9 M752.9 329.87 h-3.9 M432.2 313.55 h3.9 M752.9 313.55 h-3.9 M432.2 305.38 h3.9 M752.9 305.38 h-3.9" stroke="#000" stroke-width="1.62" fill="none"/>
<path d="M431.3 301.3 H753.8 M431.3 525.8 H753.8 M432.2 301.3 V516.82 M752.9 301.3 V468.45" fill="none" stroke="#000" stroke-width="1.8"/>
<path d="M432.2 526.4 L432.2 516.82" fill="none" stroke="#f00" stroke-width="1.8" stroke-linejoin="miter" stroke-dasharray="0 8.07 1.35 0.38" clip-path="url(#c4)"/>
<path d="M432.2 516.82 L432.2 499.88 L435.41 499.88 L435.41 507.84 L438.61 507.84 L438.61 496.21 L441.82 496.21 L441.82 484.17 L445.03 484.17 L445.03 473.55 L448.24 473.55 L448.24 460.69 L451.44 460.69 L451.44 450.08 L454.65 450.08 L454.65 436.82 L457.86 436.82 L457.86 431.92 L461.06 431.92 L461.06 417.63 L464.27 417.63 L464.27 408.86 L467.48 408.86 L467.48 399.06 L470.68 399.06 L470.68 392.12 L473.89 392.12 L473.89 384.98 L477.1 384.98 L477.1 374.36 L480.31 374.36 L480.31 371.1 L483.51 371.1 L483.51 363.14 L486.72 363.14 L486.72 356.61 L489.93 356.61 L489.93 354.57 L493.13 354.57 L493.13 348.04 L496.34 348.04 L496.34 347.83 L499.55 347.83 L499.55 345.18 L502.75 345.18 L502.75 342.12 L505.96 342.12 L505.96 339.06 L509.17 339.06 L509.17 337.02 L512.38 337.02 L512.38 332.93 L515.58 332.93 L515.58 334.36 L518.79 334.36 L518.79 329.67 L522 329.67 L522 330.28 L525.2 330.28 L525.2 334.36 L528.41 334.36 L528.41 337.83 L531.62 337.83 L531.62 337.42 L534.82 337.42 L534.82 336.4 L538.03 336.4 L538.03 341.1 L541.24 341.1 L541.24 336.81 L544.44 336.81 L544.44 339.67 L547.65 339.67 L547.65 342.93 L550.86 342.93 L550.86 345.59 L554.07 345.59 L554.07 343.34 L557.27 343.34 L557.27 349.47 L560.48 349.47 L560.48 352.53 L563.69 352.53 L563.69 354.36 L566.89 354.36 L566.89 357.43 L570.1 357.43 L570.1 361.71 L573.31 361.71 L573.31 363.14 L576.51 363.14 L576.51 367.83 L579.72 367.83 L579.72 369.26 L582.93 369.26 L582.93 370.28 L586.14 370.28 L586.14 377.43 L589.34 377.43 L589.34 378.45 L592.55 378.45 L592.55 379.67 L595.76 379.67 L595.76 382.94 L598.96 382.94 L598.96 385.59 L602.17 385.59 L602.17 387.02 L605.38 387.02 L605.38 388.86 L608.59 388.86 L608.59 394.16 L611.79 394.16 L611.79 397.43 L615 397.43 L615 399.88 L618.21 399.88 L618.21 402.94 L621.41 402.94 L621.41 404.37 L624.62 404.37 L624.62 407.63 L627.83 407.63 L627.83 407.22 L631.03 407.22 L631.03 413.14 L634.24 413.14 L634.24 413.96 L637.45 413.96 L637.45 415.18 L640.65 415.18 L640.65 417.43 L643.86 417.43 L643.86 420.49 L647.07 420.49 L647.07 421.71 L650.28 421.71 L650.28 422.33 L653.48 422.33 L653.48 426.41 L656.69 426.41 L656.69 430.9 L659.9 430.9 L659.9 431.51 L663.1 431.51 L663.1 433.75 L666.31 433.75 L666.31 435.18 L669.52 435.18 L669.52 436.41 L672.72 436.41 L672.72 437.22 L675.93 437.22 L675.93 437.84 L679.14 437.84 L679.14 441.51 L682.35 441.51 L682.35 438.86 L685.55 438.86 L685.55 443.96 L688.76 443.96 L688.76 446.2 L691.97 446.2 L691.97 447.22 L695.17 447.22 L695.17 449.06 L698.38 449.06 L698.38 450.08 L701.59 450.08 L701.59 451.1 L704.79 451.1 L704.79 452.33 L708 452.33 L708 452.74 L711.21 452.74 L711.21 455.39 L714.42 455.39 L714.42 456 L717.62 456 L717.62 457.63 L720.83 457.63 L720.83 458.25 L724.04 458.25 L724.04 461.92 L727.24 461.92 L727.24 461.1 L730.45 461.1 L730.45 461.51 L733.66 461.51 L733.66 462.53 L736.87 462.53 L736.87 464.16 L740.07 464.16 L740.07 465.59 L743.28 465.59 L743.28 465.59 L746.49 465.59 L746.49 466.41 L749.69 466.41 L749.69 467.84 L752.9 467.84 L752.9 468.45" fill="none" stroke="#f00" stroke-width="1.8" stroke-linejoin="miter" clip-path="url(#c4)"/>
<path d="M752.9 468.45 L752.9 526.4" fill="none" stroke="#f00" stroke-width="1.8" stroke-linejoin="miter" stroke-dasharray="0 8.07 1.35 0.38" stroke-dashoffset="8.16" clip-path="url(#c4)"/>
<path d="M432.2 526.4 L432.2 516.82" fill="none" stroke="#00f" stroke-width="1.8" stroke-linejoin="miter" stroke-dasharray="8.07 1.35 0.38 0" clip-path="url(#c4)"/>
<path d="M432.2 517.72 L432.2 516.82 L435.41 516.82 L435.41 500.49 L438.61 500.49 L438.61 479.47 L441.82 479.47 L441.82 465.18 L445.03 465.18 L445.03 447.22 L448.24 447.22 L448.24 434.78 L451.44 434.78 L451.44 418.65 L454.65 418.65 L454.65 403.14 L457.86 403.14 L457.86 390.28 L461.06 390.28 L461.06 381.3 L464.27 381.3 L464.27 364.57 L467.48 364.57 L467.48 358.65 L470.68 358.65 L470.68 349.47 L473.89 349.47 L473.89 346.81 L477.1 346.81 L477.1 342.12 L480.31 342.12 L480.31 339.06 L483.51 339.06 L483.51 330.28 L486.72 330.28 L486.72 331.71 L489.93 331.71 L489.93 326.4 L493.13 326.4 L493.13 329.06 L496.34 329.06 L496.34 327.02 L499.55 327.02 L499.55 327.02 L502.75 327.02 L502.75 325.18 L505.96 325.18 L505.96 331.1 L509.17 331.1 L509.17 326.4 L512.38 326.4 L512.38 333.55 L515.58 333.55 L515.58 338.24 L518.79 338.24 L518.79 334.36 L522 334.36 L522 343.96 L525.2 343.96 L525.2 344.16 L528.41 344.16 L528.41 344.98 L531.62 344.98 L531.62 347.63 L534.82 347.63 L534.82 352.94 L538.03 352.94 L538.03 351.91 L541.24 351.91 L541.24 358.04 L544.44 358.04 L544.44 359.67 L547.65 359.67 L547.65 365.38 L550.86 365.38 L550.86 366 L554.07 366 L554.07 366.61 L557.27 366.61 L557.27 372.53 L560.48 372.53 L560.48 376.41 L563.69 376.41 L563.69 378.45 L566.89 378.45 L566.89 375.79 L570.1 375.79 L570.1 381.1 L573.31 381.1 L573.31 384.98 L576.51 384.98 L576.51 387.63 L579.72 387.63 L579.72 390.9 L582.93 390.9 L582.93 389.67 L586.14 389.67 L586.14 394.16 L589.34 394.16 L589.34 396.2 L592.55 396.2 L592.55 400.08 L595.76 400.08 L595.76 400.69 L598.96 400.69 L598.96 406.61 L602.17 406.61 L602.17 403.35 L605.38 403.35 L605.38 409.47 L608.59 409.47 L608.59 413.14 L611.79 413.14 L611.79 411.3 L615 411.3 L615 416.82 L618.21 416.82 L618.21 417.43 L621.41 417.43 L621.41 419.47 L624.62 419.47 L624.62 418.45 L627.83 418.45 L627.83 421.31 L631.03 421.31 L631.03 424.98 L634.24 424.98 L634.24 423.96 L637.45 423.96 L637.45 426.61 L640.65 426.61 L640.65 432.53 L643.86 432.53 L643.86 432.94 L647.07 432.94 L647.07 433.55 L650.28 433.55 L650.28 434.16 L653.48 434.16 L653.48 431.51 L656.69 431.51 L656.69 433.55 L659.9 433.55 L659.9 435.59 L663.1 435.59 L663.1 440.29 L666.31 440.29 L666.31 439.67 L669.52 439.67 L669.52 442.33 L672.72 442.33 L672.72 443.55 L675.93 443.55 L675.93 444.57 L679.14 444.57 L679.14 445.39 L682.35 445.39 L682.35 449.88 L685.55 449.88 L685.55 447.22 L688.76 447.22 L688.76 448.45 L691.97 448.45 L691.97 450.29 L695.17 450.29 L695.17 450.29 L698.38 450.29 L698.38 450.49 L701.59 450.49 L701.59 455.39 L704.79 455.39 L704.79 453.14 L708 453.14 L708 459.06 L711.21 459.06 L711.21 460.29 L714.42 460.29 L714.42 459.27 L717.62 459.27 L717.62 458.25 L720.83 458.25 L720.83 459.06 L724.04 459.06 L724.04 465.59 L727.24 465.59 L727.24 461.51 L730.45 461.51 L730.45 462.53 L733.66 462.53 L733.66 463.55 L736.87 463.55 L736.87 464.16 L740.07 464.16 L740.07 466.21 L743.28 466.21 L743.28 466.41 L746.49 466.41 L746.49 467.84 L749.69 467.84 L749.69 468.45 L752.9 468.45 L752.9 469.35" fill="none" stroke="#00f" stroke-width="1.8" stroke-linejoin="miter" stroke-dasharray="7.7 2.1" stroke-dashoffset="8.68" clip-path="url(#c4)"/>
<path d="M752.9 468.45 L752.9 526.4" fill="none" stroke="#00f" stroke-width="1.8" stroke-linejoin="miter" stroke-dasharray="8.07 1.35 0.38 0" stroke-dashoffset="8.16" clip-path="url(#c4)"/>
<text transform="translate(432.2 541.8) scale(1.11 1)" text-anchor="middle" font-family='"Liberation Sans", sans-serif' font-weight="bold" font-size="12" stroke="#000" stroke-width="0.3">0</text>
<text transform="translate(512.38 541.8) scale(1.11 1)" text-anchor="middle" font-family='"Liberation Sans", sans-serif' font-weight="bold" font-size="12" stroke="#000" stroke-width="0.3">5</text>
<text transform="translate(592.55 541.8) scale(1.11 1)" text-anchor="middle" font-family='"Liberation Sans", sans-serif' font-weight="bold" font-size="12" stroke="#000" stroke-width="0.3">10</text>
<text transform="translate(672.72 541.8) scale(1.11 1)" text-anchor="middle" font-family='"Liberation Sans", sans-serif' font-weight="bold" font-size="12" stroke="#000" stroke-width="0.3">15</text>
<text transform="translate(752.9 541.8) scale(1.11 1)" text-anchor="middle" font-family='"Liberation Sans", sans-serif' font-weight="bold" font-size="12" stroke="#000" stroke-width="0.3">20</text>
<text transform="translate(427.7 531) scale(1.11 1)" text-anchor="end" font-family='"Liberation Sans", sans-serif' font-weight="bold" font-size="12" stroke="#000" stroke-width="0.3">0</text>
<text transform="translate(427.7 490.18) scale(1.11 1)" text-anchor="end" font-family='"Liberation Sans", sans-serif' font-weight="bold" font-size="12" stroke="#000" stroke-width="0.3">20</text>
<text transform="translate(427.7 449.36) scale(1.11 1)" text-anchor="end" font-family='"Liberation Sans", sans-serif' font-weight="bold" font-size="12" stroke="#000" stroke-width="0.3">40</text>
<text transform="translate(427.7 408.55) scale(1.11 1)" text-anchor="end" font-family='"Liberation Sans", sans-serif' font-weight="bold" font-size="12" stroke="#000" stroke-width="0.3">60</text>
<text transform="translate(427.7 367.73) scale(1.11 1)" text-anchor="end" font-family='"Liberation Sans", sans-serif' font-weight="bold" font-size="12" stroke="#000" stroke-width="0.3">80</text>
<text transform="translate(427.7 326.91) scale(1.11 1)" text-anchor="end" font-family='"Liberation Sans", sans-serif' font-weight="bold" font-size="12" stroke="#000" stroke-width="0.3">100</text>
<text x="153.3" y="45.4" textLength="21" lengthAdjust="spacingAndGlyphs" font-family='"Liberation Serif", serif' font-weight="normal" font-size="18.2" fill="#000" stroke="#000" stroke-width="0.85" stroke-linejoin="round">pp</text>
<text x="175.8" y="45.4" textLength="3.6" lengthAdjust="spacingAndGlyphs" font-family='"Liberation Serif", serif' font-weight="normal" font-size="18.2" fill="#000" stroke="#000" stroke-width="0.85" stroke-linejoin="round">,</text>
<path d="M190.3 38.2 L192.4 37.0 L196.3 45.4 L201.5 30.6" fill="none" stroke="#000" stroke-width="1.3" stroke-linejoin="miter"/>
<path d="M192.2 36.8 L196.2 45.2" fill="none" stroke="#000" stroke-width="2.3"/>
<text x="201.9" y="45.4" textLength="9.4" lengthAdjust="spacingAndGlyphs" font-family='"Liberation Serif", serif' font-weight="normal" font-size="19" fill="#000" stroke="#000" stroke-width="0.85" stroke-linejoin="round">S</text>
<text x="212.3" y="45.4" textLength="13" lengthAdjust="spacingAndGlyphs" font-family='"Liberation Serif", serif' font-weight="normal" font-size="19" fill="#000" stroke="#000" stroke-width="0.85" stroke-linejoin="round">=</text>
<text x="228" y="45.4" textLength="19.4" lengthAdjust="spacingAndGlyphs" font-family='"Liberation Serif", serif' font-weight="normal" font-size="19" fill="#000" stroke="#000" stroke-width="0.85" stroke-linejoin="round">14</text>
<text x="255.8" y="45.4" textLength="31.5" lengthAdjust="spacingAndGlyphs" font-family='"Liberation Serif", serif' font-weight="normal" font-size="19" fill="#000" stroke="#000" stroke-width="0.85" stroke-linejoin="round">TeV</text>
<text x="153.9" y="71.3" textLength="60.7" lengthAdjust="spacingAndGlyphs" font-family='"Liberation Serif", serif' font-weight="normal" font-size="18.2" fill="#00f" stroke="#00f" stroke-width="0.85" stroke-linejoin="round">dashes</text>
<text x="215.6" y="71.3" textLength="3.8" lengthAdjust="spacingAndGlyphs" font-family='"Liberation Serif", serif' font-weight="normal" font-size="18.2" fill="#00f" stroke="#00f" stroke-width="0.85" stroke-linejoin="round">:</text>
<text x="228.6" y="71.3" textLength="63.6" lengthAdjust="spacingAndGlyphs" font-family='"Liberation Serif", serif' font-weight="normal" font-size="19" fill="#00f" stroke="#00f" stroke-width="0.85" stroke-linejoin="round">PYTHIA</text>
<path d="M294.1 62.7 L301.7 70.5 M301.7 62.7 L294.1 70.5" fill="none" stroke="#00f" stroke-width="1.6"/>
<text x="305.1" y="71.3" textLength="45.5" lengthAdjust="spacingAndGlyphs" font-family='"Liberation Serif", serif' font-weight="normal" font-size="19" fill="#00f" stroke="#00f" stroke-width="0.85" stroke-linejoin="round">1.162</text>
<text x="153.4" y="97.4" textLength="40" lengthAdjust="spacingAndGlyphs" font-family='"Liberation Serif", serif' font-weight="normal" font-size="18.2" fill="#f00" stroke="#f00" stroke-width="0.85" stroke-linejoin="round">solid</text>
<text x="196" y="97.4" textLength="3.9" lengthAdjust="spacingAndGlyphs" font-family='"Liberation Serif", serif' font-weight="normal" font-size="18.2" fill="#f00" stroke="#f00" stroke-width="0.85" stroke-linejoin="round">:</text>
<text x="210.2" y="97.4" textLength="72.3" lengthAdjust="spacingAndGlyphs" font-family='"Liberation Serif", serif' font-weight="normal" font-size="19" fill="#f00" stroke="#f00" stroke-width="0.85" stroke-linejoin="round">POWHEG</text>
<text x="72.7" y="169.9" textLength="80.8" lengthAdjust="spacingAndGlyphs" font-family='"Liberation Serif", serif' font-weight="normal" font-size="18.2" fill="#000" stroke="#000" stroke-width="0.85" stroke-linejoin="round">picobarn</text>
<text x="72.7" y="194.8" textLength="30.7" lengthAdjust="spacingAndGlyphs" font-family='"Liberation Serif", serif' font-weight="normal" font-size="18.2" fill="#000" stroke="#000" stroke-width="0.85" stroke-linejoin="round">per</text>
<text x="112.4" y="194.8" textLength="28.8" lengthAdjust="spacingAndGlyphs" font-family='"Liberation Serif", serif' font-weight="normal" font-size="18.2" fill="#000" stroke="#000" stroke-width="0.85" stroke-linejoin="round">bin</text>
<text x="197.7" y="275.6" textLength="12" lengthAdjust="spacingAndGlyphs" font-family='"Liberation Serif", serif' font-weight="normal" font-size="18.6" fill="#000" stroke="#000" stroke-width="0.5" stroke-linejoin="round">p</text>
<text x="210.7" y="279.6" textLength="6.4" lengthAdjust="spacingAndGlyphs" font-family='"Liberation Serif", serif' font-weight="normal" font-size="11.6" fill="#000" stroke="#000" stroke-width="0.85" stroke-linejoin="round">T</text>
<text x="210.4" y="266.2" textLength="6.2" lengthAdjust="spacingAndGlyphs" font-family='"Liberation Serif", serif' font-weight="normal" font-size="10.5" fill="#000" stroke="#000" stroke-width="0.85" stroke-linejoin="round">e</text>
<text x="583.4" y="275" textLength="10.3" lengthAdjust="spacingAndGlyphs" font-family='"Liberation Serif", serif' font-weight="normal" font-size="18" fill="#000" stroke="#000" stroke-width="0.5" stroke-linejoin="round">y</text>
<text x="593.9" y="267" textLength="7.6" lengthAdjust="spacingAndGlyphs" font-family='"Liberation Serif", serif' font-weight="normal" font-size="12.7" fill="#000" stroke="#000" stroke-width="0.85" stroke-linejoin="round">e</text>
<text x="193.5" y="564" textLength="12" lengthAdjust="spacingAndGlyphs" font-family='"Liberation Serif", serif' font-weight="normal" font-size="18.6" fill="#000" stroke="#000" stroke-width="0.5" stroke-linejoin="round">p</text>
<text x="206.5" y="568" textLength="6.4" lengthAdjust="spacingAndGlyphs" font-family='"Liberation Serif", serif' font-weight="normal" font-size="11.6" fill="#000" stroke="#000" stroke-width="0.85" stroke-linejoin="round">T</text>
<text x="206.1" y="554.6" textLength="7.2" lengthAdjust="spacingAndGlyphs" font-family='"Liberation Mono", monospace' font-weight="bold" font-size="12.2" fill="#000" stroke="#000" stroke-width="0.6" stroke-linejoin="round">W</text>
<rect x="214.5" y="546.3" width="5.8" height="1.3" fill="#000"/>
<text x="578.4" y="564" textLength="12" lengthAdjust="spacingAndGlyphs" font-family='"Liberation Serif", serif' font-weight="normal" font-size="18.6" fill="#000" stroke="#000" stroke-width="0.5" stroke-linejoin="round">p</text>
<text x="591.4" y="568" textLength="6.4" lengthAdjust="spacingAndGlyphs" font-family='"Liberation Serif", serif' font-weight="normal" font-size="11.6" fill="#000" stroke="#000" stroke-width="0.85" stroke-linejoin="round">T</text>
<text x="591" y="554.6" textLength="7.2" lengthAdjust="spacingAndGlyphs" font-family='"Liberation Mono", monospace' font-weight="bold" font-size="12.2" fill="#000" stroke="#000" stroke-width="0.6" stroke-linejoin="round">W</text>
<rect x="599.4" y="546.3" width="5.8" height="1.3" fill="#000"/>
</svg>
</body></html>
